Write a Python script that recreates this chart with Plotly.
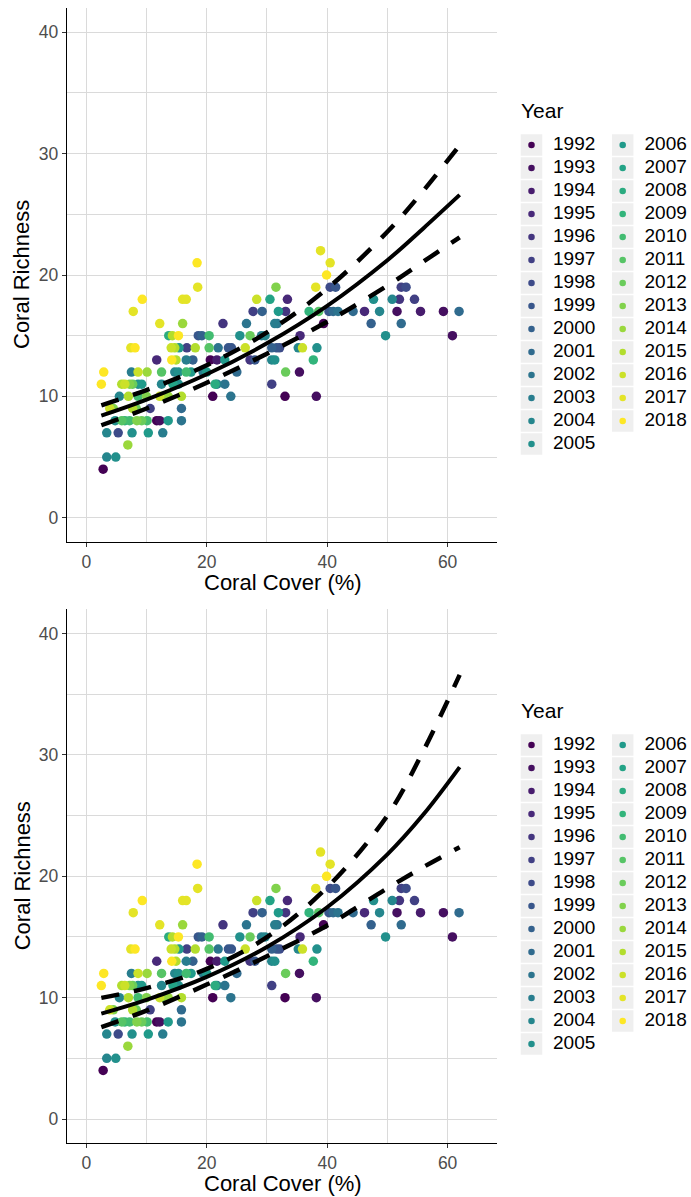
import plotly.graph_objects as go
from plotly.colors import sample_colorscale

# ---- survey data: coral cover (%), coral richness, survey year ----
years = list(range(1992, 2019))

cover = [
    38.9,
    18.4, 40.5,
    39.9,
    18.5, 31.5, 38.1, 40.5, 41.4, 52.3, 53.1,
    9.3, 16.0, 16.6, 28.3, 30.5, 33.4, 47.7, 50.8, 52.0, 54.5,
    7.8, 27.7, 29.2, 31.9, 33.1, 37.0, 38.6, 40.3, 41.0, 41.8, 44.3, 46.2, 48.7, 51.6, 55.5, 59.3, 61.9,
    12.2, 16.0, 22.7, 26.6, 31.3, 31.7, 39.4, 47.3, 52.3,
    13.7, 14.3, 15.3, 18.6, 19.2, 20.4, 25.5, 27.2, 29.1, 29.7, 35.5, 49.7, 60.8,
    7.4, 8.1, 14.1, 14.7, 15.4, 16.7, 18.1, 20.4, 21.9, 23.6, 24.1, 26.4, 30.8, 31.6, 32.1, 35.2, 35.9, 38.3,
    11.7, 14.2, 14.9, 16.6, 17.7, 20.6, 21.7, 23.0, 27.2, 28.0, 30.8, 31.3, 37.7,
    2.9, 7.5, 8.6, 10.1, 12.5, 14.7, 15.3, 16.6, 17.4, 19.4, 20.0, 25.0, 33.1, 35.4,
    2.5, 5.9, 6.4, 7.2, 7.7, 8.6, 9.2, 12.5, 14.4, 15.3, 21.4, 21.7, 23.0, 30.8,
    5.5, 7.0, 8.6, 10.0, 12.2, 12.8, 13.6, 15.8, 21.0, 24.0, 33.0, 38.2,
    3.9, 4.5, 7.7, 8.3, 10.6, 15.8,
    4.8, 5.9, 6.4, 7.2, 8.4, 9.2, 10.1, 11.7, 12.2, 13.6, 15.8,
    3.4, 5.3, 7.6, 10.3, 12.7,
    6.9,
    3.4, 4.9,
    2.8,
]

richness = (
    [22] * 1 + [21] * 2 + [20] * 1 + [19] * 7 + [18] * 10 + [17] * 17 + [16] * 9
    + [15] * 13 + [14] * 18 + [13] * 13 + [12] * 14 + [11] * 14 + [10] * 12
    + [9] * 6 + [8] * 11 + [7] * 5 + [6] * 1 + [5] * 2 + [4] * 1
)

year = [
    2017,
    2018, 2017,
    2018,
    2017, 2013, 2017, 1998, 1999, 1997, 1998,
    2018, 2017, 2017, 2016, 2007, 1995, 2005, 2004, 1996, 1997,
    2017, 1997, 2000, 2006, 1996, 2009, 2011, 1999, 2001, 2002, 2001, 1995, 2004, 1993, 1994, 1993, 2001,
    2017, 2014, 1996, 2002, 2003, 2002, 1992, 2000, 2001,
    2008, 2015, 2018, 1999, 2000, 2010, 2005, 2012, 2003, 2004, 1995, 2005, 1993,
    2017, 2018, 2016, 2015, 2006, 1997, 2015, 2011, 2002, 1999, 1999, 2016, 2000, 1999, 1998, 2004, 2016, 2005,
    1995, 2018, 2015, 2003, 2000, 1992, 1994, 2006, 1996, 1999, 2004, 2005, 2009,
    2018, 2003, 2016, 2014, 2011, 2004, 2005, 2010, 2006, 2003, 2006, 2001, 2012, 1993,
    2018, 2015, 2016, 2013, 2012, 2005, 2006, 2004, 2007, 2005, 2008, 2003, 2002, 1997,
    2004, 2015, 2010, 2013, 2016, 2011, 2014, 2015, 1992, 2002, 1992, 1993,
    2016, 2013, 2015, 2012, 1997, 2001,
    2005, 2011, 2009, 2010, 2013, 2012, 2010, 1992, 1993, 2006, 2002,
    2004, 1998, 2005, 2006, 2003,
    2014,
    2004, 2005,
    1992,
]

# ---- fitted richness ~ cover curves with 95% confidence limits ----
fit_x = [2.5, 10, 20, 30, 40, 50, 56, 62]
top_fit = [8.41, 9.73, 11.82, 14.37, 17.46, 21.22, 23.86, 26.6]
top_upper = [9.26, 10.52, 12.56, 15.27, 18.88, 23.56, 26.96, 30.7]
top_lower = [7.62, 9.00, 11.12, 13.52, 16.15, 19.12, 21.11, 23.1]
bot_fit = [8.69, 9.82, 11.71, 14.18, 17.45, 21.81, 25.11, 29.0]
bot_upper = [9.98, 10.79, 12.37, 14.98, 19.09, 25.01, 30.36, 36.6]
bot_lower = [7.57, 8.93, 11.08, 13.42, 15.95, 19.02, 20.77, 22.4]

x_ticks = [0, 20, 40, 60]
y_ticks = [0, 10, 20, 30, 40]

# ---- styling ----
W, H = 691, 1197
FONT = "Liberation Sans, Arial, sans-serif"
GRID = "#DADADA"
TICK_GREY = "#4D4D4D"
colors = sample_colorscale("Viridis", [i / (len(years) - 1) for i in range(len(years))])

fig = go.Figure()

panels = [
    dict(xa="x", ya="y", fit=top_fit, up=top_upper, lo=top_lower, top=8, bottom=542),
    dict(xa="x2", ya="y2", fit=bot_fit, up=bot_upper, lo=bot_lower, top=609.3, bottom=1143.3),
]

for p in panels:
    for yr, col in zip(years, colors):
        idx = [i for i, v in enumerate(year) if v == yr]
        fig.add_trace(go.Scatter(
            x=[cover[i] for i in idx], y=[richness[i] for i in idx],
            mode="markers", marker=dict(size=9.5, color=col, line=dict(width=0)),
            xaxis=p["xa"], yaxis=p["ya"], showlegend=False, hoverinfo="skip",
        ))
    for band in (p["up"], p["lo"]):
        fig.add_trace(go.Scatter(
            x=fit_x, y=band, mode="lines",
            line=dict(color="black", width=4.5, dash="18px,15px", shape="spline"),
            xaxis=p["xa"], yaxis=p["ya"], showlegend=False, hoverinfo="skip",
        ))
    fig.add_trace(go.Scatter(
        x=fit_x, y=p["fit"], mode="lines",
        line=dict(color="black", width=4, shape="spline"),
        xaxis=p["xa"], yaxis=p["ya"], showlegend=False, hoverinfo="skip",
    ))

# ---- legend blocks drawn on a pixel-unit overlay axis ----
LEG_X0 = 500
ROWS = 14
ROW_H = 23.0
KEY_X = [531.5, 622.7]
TXT_X = [553.0, 644.5]
for off in (0, 600):
    row0 = 145 + off
    kx, ky, tx, tt = [], [], [], []
    for i, yr in enumerate(years):
        c, r = divmod(i, ROWS)
        kx.append(KEY_X[c])
        ky.append(row0 + r * ROW_H)
        tx.append(TXT_X[c])
        tt.append(str(yr))
    fig.add_trace(go.Scatter(
        x=kx, y=ky, mode="markers",
        marker=dict(symbol="square", size=21.5, color="#EFEFEF", line=dict(width=0)),
        xaxis="x3", yaxis="y3", showlegend=False, hoverinfo="skip",
    ))
    fig.add_trace(go.Scatter(
        x=kx, y=ky, mode="markers",
        marker=dict(size=6.5, color=colors, line=dict(width=0)),
        xaxis="x3", yaxis="y3", showlegend=False, hoverinfo="skip",
    ))
    fig.add_trace(go.Scatter(
        x=tx, y=ky, mode="text", text=tt, textposition="middle right",
        textfont=dict(family=FONT, size=19, color="black"),
        xaxis="x3", yaxis="y3", showlegend=False, hoverinfo="skip",
    ))

x_dom = [66.7 / W, 497.3 / W]


def xaxis_cfg(anchor):
    return dict(
        domain=x_dom, anchor=anchor, range=[-3.25, 68.25],
        tickmode="array", tickvals=x_ticks, ticktext=[str(v) for v in x_ticks],
        ticks="outside", ticklen=4, tickwidth=1, tickcolor="#333333",
        tickfont=dict(family=FONT, size=17.5, color=TICK_GREY),
        showline=True, linecolor="black", linewidth=1,
        showgrid=True, gridcolor=GRID, gridwidth=1, zeroline=False,
        minor=dict(tickmode="array", tickvals=[10, 30, 50], showgrid=True,
                   gridcolor=GRID, gridwidth=1),
        fixedrange=True,
    )


def yaxis_cfg(anchor, top, bottom):
    return dict(
        domain=[(H - bottom) / H, (H - top) / H], anchor=anchor, range=[-2, 42],
        tickmode="array", tickvals=y_ticks, ticktext=[str(v) for v in y_ticks],
        ticks="outside", ticklen=4, tickwidth=1, tickcolor="#333333",
        tickfont=dict(family=FONT, size=17.5, color=TICK_GREY),
        showline=True, linecolor="black", linewidth=1,
        showgrid=True, gridcolor=GRID, gridwidth=1, zeroline=False,
        minor=dict(tickmode="array", tickvals=[5, 15, 25, 35], showgrid=True,
                   gridcolor=GRID, gridwidth=1),
        fixedrange=True,
    )


annotations = []
for p, year_y in zip(panels, (110, 710)):
    mid_y = (p["top"] + p["bottom"]) / 2
    annotations += [
        dict(text="Coral Richness", x=22 / W, y=1 - mid_y / H, xref="paper", yref="paper",
             textangle=-90, showarrow=False, xanchor="center", yanchor="middle",
             font=dict(family=FONT, size=22, color="black")),
        dict(text="Coral Cover (%)", x=283 / W, y=1 - (p["bottom"] + 40) / H,
             xref="paper", yref="paper", showarrow=False, xanchor="center", yanchor="middle",
             font=dict(family=FONT, size=22, color="black")),
        dict(text="Year", x=519 / W, y=1 - year_y / H, xref="paper", yref="paper",
             showarrow=False, xanchor="left", yanchor="middle",
             font=dict(family=FONT, size=21, color="black")),
    ]

fig.update_layout(
    width=W, height=H,
    margin=dict(l=0, r=0, t=0, b=0),
    paper_bgcolor="white", plot_bgcolor="rgba(0,0,0,0)",
    font=dict(family=FONT),
    xaxis=xaxis_cfg("y"),
    yaxis=yaxis_cfg("x", panels[0]["top"], panels[0]["bottom"]),
    xaxis2=xaxis_cfg("y2"),
    yaxis2=yaxis_cfg("x2", panels[1]["top"], panels[1]["bottom"]),
    xaxis3=dict(domain=[LEG_X0 / W, 1], range=[LEG_X0, W], anchor="y3",
                visible=False, fixedrange=True),
    yaxis3=dict(domain=[0, 1], range=[H, 0], anchor="x3",
                visible=False, fixedrange=True),
    annotations=annotations,
    showlegend=False,
)

fig.write_html("out.html")
